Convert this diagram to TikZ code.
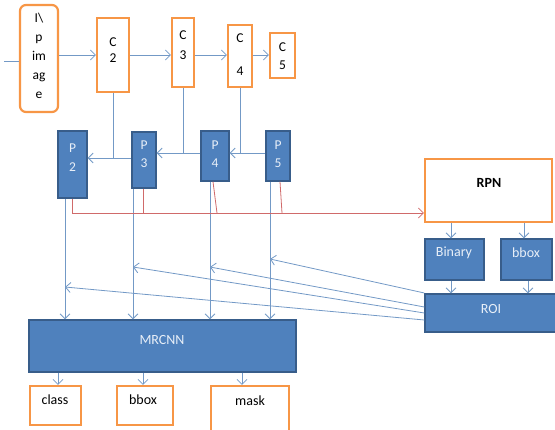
\documentclass[tikz,border=0pt]{standalone}
\usepackage{fontspec}
\setmainfont{Carlito}
\usetikzlibrary{arrows.meta}
\definecolor{boxorange}{HTML}{F79646}
\definecolor{boxblue}{HTML}{4F81BD}
\definecolor{boxblueline}{HTML}{385D8A}
\definecolor{linkblue}{HTML}{7399C6}
\definecolor{linkred}{HTML}{D06A6A}
\definecolor{lighttext}{HTML}{E8EFF8}

\begin{document}
\begin{tikzpicture}[x=1pt,y=-1pt,
  obox/.style={draw=boxorange, line width=2.2pt, fill=white, inner sep=0pt},
  bluebox/.style={draw=boxblueline, line width=1.3pt, fill=boxblue, inner sep=0pt},
  lbl/.style={font=\fontsize{14}{16}\selectfont, align=center, inner sep=0pt},
  wlbl/.style={lbl, text=lighttext},
  link/.style={draw=linkblue, line width=0.8pt},
  arr/.style={link, -{Straight Barb[length=5pt,width=10pt]}},
  redlink/.style={draw=linkred, line width=0.8pt},
  redarr/.style={redlink, -{Straight Barb[length=5pt,width=10pt]}}
]
\useasboundingbox (0,0) rectangle (555,429);

% backbone stages
\node[obox, rounded corners=6pt, minimum width=38pt, minimum height=107pt] (img) at (39,58.5) {};
\node[lbl, font=\fontsize{13.5}{19}\selectfont] (imgt) at (39,56) {I\textbackslash\\p\\im\\ag\\e};
\node[obox, minimum width=32pt, minimum height=74pt] (c2) at (113,55) {};
\node[lbl, font=\fontsize{13.5}{16}\selectfont] (c2t) at (113,50) {C\\2};
\node[obox, minimum width=22pt, minimum height=69pt] (c3) at (183,52.5) {};
\node[lbl, font=\fontsize{13.5}{20}\selectfont] (c3t) at (183,45) {C\\3};
\node[obox, minimum width=24pt, minimum height=62pt] (c4) at (240,56) {};
\node[lbl, font=\fontsize{13.5}{33}\selectfont] (c4t) at (240,54.5) {C\\4};
\node[obox, minimum width=25pt, minimum height=45pt] (c5) at (282.5,55.5) {};
\node[lbl, font=\fontsize{13.5}{18}\selectfont] (c5t) at (282.5,56.5) {C\\5};

% pyramid levels
\node[bluebox, minimum width=29pt, minimum height=67pt] (p2) at (72.5,164.5) {};
\node[wlbl, font=\fontsize{13.5}{19}\selectfont] (p2t) at (72.5,157.5) {P\\2};
\node[bluebox, minimum width=24pt, minimum height=56pt] (p3) at (144,160) {};
\node[wlbl, font=\fontsize{13.5}{18}\selectfont] (p3t) at (144,154) {P\\3};
\node[bluebox, minimum width=28pt, minimum height=50pt] (p4) at (215,156) {};
\node[wlbl, font=\fontsize{13.5}{18}\selectfont] (p4t) at (215,154) {P\\4};
\node[bluebox, minimum width=24pt, minimum height=50pt] (p5) at (278,156) {};
\node[wlbl, font=\fontsize{13.5}{18}\selectfont] (p5t) at (278,154) {P\\5};

% region proposal branch
\node[obox, minimum width=127pt, minimum height=63pt] (rpn) at (488.5,190.5) {};
\node[lbl, font=\fontsize{14}{16}\bfseries] (rpnt) at (489,183) {RPN};
\node[bluebox, minimum width=59pt, minimum height=41pt] (bin) at (454.5,259.5) {};
\node[wlbl] (bint) at (454,253) {Binary};
\node[bluebox, minimum width=51pt, minimum height=41pt] (bb) at (526.5,259.5) {};
\node[wlbl] (bbt) at (526,253) {bbox};
\node[bluebox, minimum width=132pt, minimum height=38pt] (roi) at (491,313) {};
\node[wlbl] (roit) at (491,309) {ROI};

% head and outputs
\node[bluebox, minimum width=267pt, minimum height=52pt] (mr) at (162.5,346) {};
\node[wlbl] (mrt) at (162,340) {MRCNN};
\node[obox, minimum width=51pt, minimum height=39pt] (cls) at (55.5,405.5) {};
\node[lbl] (clst) at (55,400) {class};
\node[obox, minimum width=56pt, minimum height=39pt] (obb) at (145,405.5) {};
\node[lbl] (obbt) at (143,400) {bbox};
\node[obox, minimum width=78pt, minimum height=47pt] (msk) at (250,409.5) {};
\node[lbl] (mskt) at (250,401) {mask};

% bottom-up path
\coordinate (in0) at (4,61);
\draw[link] (in0) -- (in0 -| img.west);
\draw[arr] (c2.west -| img.east) -- (c2.west);
\draw[arr] (c2.east) -- (c2.east -| c3.west);
\draw[arr] (c2.east -| c3.east) -- (c2.east -| c4.west);
\draw[arr] (c2.east -| c4.east) -- (c2.east -| c5.west);

% lateral and top-down connections
\draw[link] (c2.south) -- (c2.south |- 0,158);
\draw[arr] (p3.west |- 0,158) -- (p2.east |- 0,158);
\draw[link] (c3.south) -- (c3.south |- 0,153);
\draw[arr] (p4.west |- 0,153) -- (p3.east |- 0,153);
\draw[link] (c4.south) -- (c4.south |- 0,153);
\draw[arr] (p5.west |- 0,153) -- (p4.east |- 0,153);

% features to the head
\draw[arr] (p2.south -| 65,0) -- (mr.north -| 65,0);
\draw[arr] (p3.south -| 133,0) -- (mr.north -| 133,0);
\draw[arr] (p4.south -| 210,0) -- (mr.north -| 210,0);
\draw[arr] (p5.south -| 270,0) -- (mr.north -| 270,0);

% features to the RPN
\coordinate (rbend) at (72,213);
\draw[redarr] (p2.south -| rbend) -- (rbend) -- (rbend -| rpn.west);
\draw[redlink] (p3.south -| 143,0) -- (143,213);
\draw[redlink] (p4.south -| 213,0) -- (217,213);
\draw[redlink] (p5.south -| 280,0) -- (282,213);

% proposals
\draw[arr] (rpn.south -| 451,0) -- (bin.north -| 451,0);
\draw[arr] (rpn.south -| 524,0) -- (bb.north -| 524,0);
\draw[arr] (bin.south -| 451,0) -- (roi.north -| 451,0);
\draw[arr] (bb.south -| 528,0) -- (roi.north -| 528,0);

% ROI pooling onto the levels
\draw[arr] (roi.west |- 0,293) -- (270,259);
\draw[arr] (roi.west |- 0,307) -- (210,267);
\draw[arr] (roi.west |- 0,313) -- (133,267);
\draw[arr] (roi.west |- 0,320) -- (65,287);

% outputs
\draw[arr] (mr.south -| 58,0) -- (cls.north -| 58,0);
\draw[arr] (mr.south -| 143,0) -- (obb.north -| 143,0);
\draw[arr] (mr.south -| 242,0) -- (msk.north -| 242,0);
\end{tikzpicture}
\end{document}
